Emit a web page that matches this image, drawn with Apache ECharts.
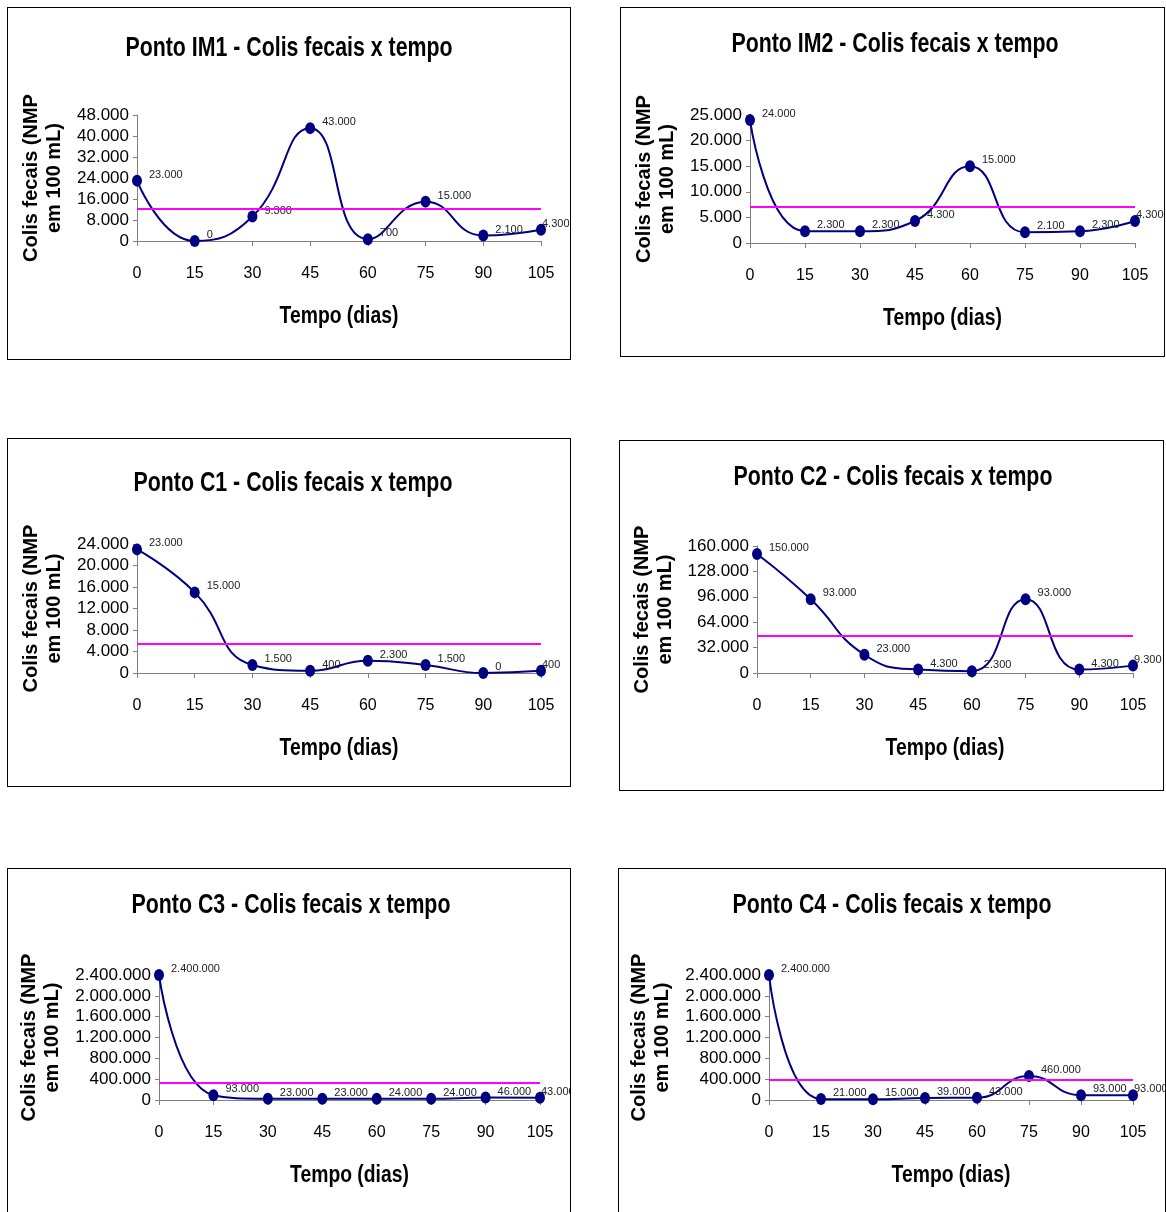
<!DOCTYPE html>
<html>
<head>
<meta charset="utf-8">
<script src="https://cdn.jsdelivr.net/npm/echarts@6/dist/echarts.min.js"></script>
<style>
  html, body { margin: 0; padding: 0; background: #fff; overflow: hidden; width: 1166px; height: 1212px; }
  .panel { position: absolute; border: 1px solid #000; box-sizing: border-box; background: #fff; }
  .panel > div { width: 100%; height: 100%; }
</style>
</head>
<body>
<script>
// Sampling days (x axis)
const days = ['0', '15', '30', '45', '60', '75', '90', '105'];

// Faecal coliforms (NMP per 100 mL) at each sampling point
const im1Values = [23000, 0, 9300, 43000, 700, 15000, 2100, 4300];
const im2Values = [24000, 2300, 2300, 4300, 15000, 2100, 2300, 4300];
const c1Values  = [23000, 15000, 1500, 400, 2300, 1500, 0, 400];
const c2Values  = [150000, 93000, 23000, 4300, 2300, 93000, 4300, 9300];
const c3Values  = [2400000, 93000, 23000, 23000, 24000, 24000, 46000, 43000];
const c4Values  = [2400000, 21000, 15000, 39000, 43000, 460000, 93000, 93000];

// Chart titles
const titles = [
  'Ponto IM1 - Colis fecais x tempo',
  'Ponto IM2 - Colis fecais x tempo',
  'Ponto C1 - Colis fecais x tempo',
  'Ponto C2 - Colis fecais x tempo',
  'Ponto C3 - Colis fecais x tempo',
  'Ponto C4 - Colis fecais x tempo'
];

// Value-axis ranges: [max, step]
const yMax  = [48000, 25000, 24000, 160000, 2400000, 2400000];
const yStep = [8000, 5000, 4000, 32000, 400000, 400000];

const xAxisName = 'Tempo (dias)';
const yAxisName = 'Colis fecais (NMP\nem 100 mL)';

const FONT = '"Liberation Sans", Arial, sans-serif';

// Brazilian thousands separator
function fmt(v) {
  return String(Math.round(v)).replace(/\B(?=(\d{3})+(?!\d))/g, '.');
}

// Panel boxes, plot areas and heading positions (page layout)
const layout = [
  { box: [7, 7, 564, 353],    grid: [129, 107, 404, 126], title: [281, 41], yGap: 66 },
  { box: [620, 7, 545, 350],  grid: [129, 107, 385, 128], title: [274, 37], yGap: 66 },
  { box: [7, 438, 564, 349],  grid: [129, 105, 404, 129], title: [285, 45], yGap: 66 },
  { box: [619, 440, 545, 351],grid: [137, 105, 376, 127], title: [273, 37], yGap: 74 },
  { box: [7, 868, 564, 370],  grid: [151, 106, 381, 125], title: [283, 37], yGap: 88 },
  { box: [618, 868, 548, 370],grid: [150, 106, 364, 125], title: [273, 37], yGap: 87 }
];

const seriesData = [im1Values, im2Values, c1Values, c2Values, c3Values, c4Values];

// Point labels: the last one is pulled left so it stays inside the frame
function pointData(values) {
  return values.map(function (v, k) {
    if (k === values.length - 1) {
      return { value: v, label: { offset: [-9, -6] } };
    }
    return v;
  });
}

// Condensed bold heading text (horizontally squeezed)
function headingText(text, x, y, size, squeeze) {
  return {
    type: 'text',
    x: x,
    y: y,
    scaleX: squeeze,
    silent: true,
    style: {
      text: text,
      font: 'bold ' + size + 'px ' + FONT,
      fill: '#000',
      align: 'center',
      verticalAlign: 'middle',
      textAlign: 'center',
      textVerticalAlign: 'middle'
    }
  };
}

layout.forEach(function (L, i) {
  const wrap = document.createElement('div');
  wrap.className = 'panel';
  wrap.style.left = L.box[0] + 'px';
  wrap.style.top = L.box[1] + 'px';
  wrap.style.width = L.box[2] + 'px';
  wrap.style.height = L.box[3] + 'px';
  const inner = document.createElement('div');
  wrap.appendChild(inner);
  document.body.appendChild(wrap);

  const gridCenterX = L.grid[0] + L.grid[2] / 2;
  const axisY = L.grid[1] + L.grid[3];

  const chart = echarts.init(inner, null, { renderer: 'canvas' });
  chart.setOption({
    animation: false,
    backgroundColor: '#fff',
    graphic: [
      headingText(titles[i], L.title[0], L.title[1], 27, 0.79),
      headingText(xAxisName, gridCenterX, axisY + 76, 23, 0.84)
    ],
    grid: { left: L.grid[0], top: L.grid[1], width: L.grid[2], height: L.grid[3], containLabel: false },
    xAxis: {
      type: 'category',
      data: days,
      boundaryGap: false,
      axisLine: { show: true, lineStyle: { color: '#808080', width: 1 } },
      axisTick: { show: true, length: 5, lineStyle: { color: '#808080' } },
      axisLabel: { margin: 25, fontSize: 16, color: '#000', fontFamily: FONT },
      splitLine: { show: false }
    },
    yAxis: {
      type: 'value',
      min: 0,
      max: yMax[i],
      interval: yStep[i],
      name: yAxisName,
      nameLocation: 'middle',
      nameGap: L.yGap,
      nameTextStyle: { fontFamily: FONT, fontSize: 20, fontWeight: 'bold', lineHeight: 23, color: '#000', align: 'center' },
      axisLine: { show: true, lineStyle: { color: '#808080', width: 1 } },
      axisTick: { show: true, length: 4, lineStyle: { color: '#808080' } },
      axisLabel: { margin: 8, fontSize: 17, color: '#000', fontFamily: FONT, formatter: fmt },
      splitLine: { show: false }
    },
    series: [{
      type: 'line',
      data: pointData(seriesData[i]),
      smooth: 0.5,
      clip: false,
      symbol: 'circle',
      symbolSize: [10, 12],
      lineStyle: { color: '#000080', width: 2 },
      itemStyle: { color: '#000080' },
      label: {
        show: true,
        position: 'right',
        offset: [2, -6],
        fontSize: 11,
        fontFamily: FONT,
        color: '#222',
        formatter: function (p) { return fmt(p.value); }
      },
      markLine: {
        silent: true,
        symbol: 'none',
        label: { show: false },
        lineStyle: { color: '#ff00ff', width: 2, type: 'solid' },
        data: [{ type: 'average' }]
      }
    }]
  });
});
</script>
</body>
</html>
